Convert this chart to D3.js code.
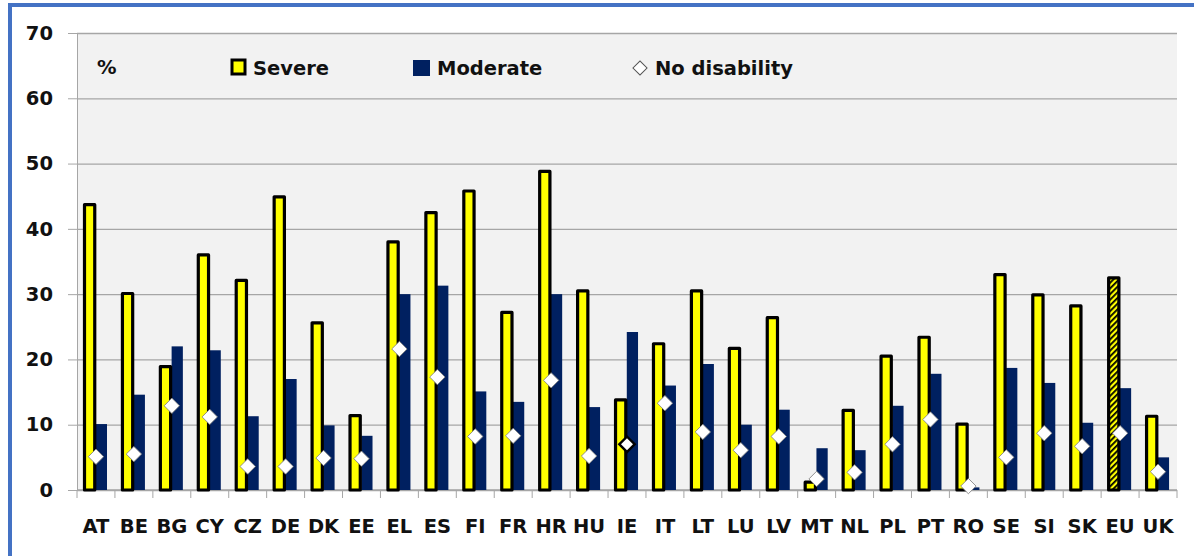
<!DOCTYPE html>
<html>
<head>
<meta charset="utf-8">
<script src="https://cdn.jsdelivr.net/npm/d3@7"></script>
<style>
  body { margin: 0; background: #fff; }
  svg text { font-family: "DejaVu Sans", Verdana, sans-serif; font-weight: bold; fill: #111; }
</style>
</head>
<body>
<div id="app"></div>
<script>
const countries = ["AT","BE","BG","CY","CZ","DE","DK","EE","EL","ES","FI","FR","HR","HU","IE","IT","LT","LU","LV","MT","NL","PL","PT","RO","SE","SI","SK","EU","UK"]
const severe   = [43.7,30.1,18.9,36.0,32.1,44.9,25.6,11.4,38.0,42.5,45.8,27.2,48.8,30.5,13.8,22.4,30.5,21.7,26.4,1.2,12.2,20.5,23.4,10.1,33.0,29.9,28.2,32.5,11.3]
const moderate = [10.1,14.6,22.0,21.4,11.3,17.0,9.9,8.3,30.0,31.3,15.1,13.5,30.0,12.7,24.2,16.0,19.3,10.0,12.3,6.4,6.1,12.9,17.8,0.4,18.7,16.4,10.3,15.6,5.0]
const noDis    = [5.1,5.5,12.9,11.2,3.6,3.6,4.9,4.8,21.6,17.3,8.2,8.3,16.8,5.2,7.0,13.3,8.9,6.1,8.2,1.7,2.7,7.0,10.8,0.6,5.0,8.7,6.7,8.7,2.8]
const yTicks = [0,10,20,30,40,50,60,70]

const width = 1194
const height = 556
const marginLeft = 77
const marginRight = 17
const marginTop = 33
const marginBottom = 66

const svg = d3.select('#app')
.append('svg')
.attr('width', width)
.attr('height', height)

// frame
svg.append('line').attr('x1', 10).attr('x2', 10).attr('y1', 3).attr('y2', height).attr('stroke', '#4472c4').attr('stroke-width', 4)
svg.append('line').attr('x1', 8).attr('x2', width).attr('y1', 5).attr('y2', 5).attr('stroke', '#4472c4').attr('stroke-width', 4)

// hatch for EU
const pat = svg.append('defs').append('pattern')
.attr('id', 'hatch')
.attr('patternUnits', 'userSpaceOnUse')
.attr('width', 4).attr('height', 4)
.attr('patternTransform', 'rotate(-45)')
pat.append('rect').attr('width', 4).attr('height', 4).attr('fill', '#ffff00')
pat.append('rect').attr('width', 4).attr('height', 1.8).attr('fill', '#000')

const scaleX = d3.scaleBand()
.domain(countries)
.range([marginLeft, width - marginRight])

const scaleY = d3.scaleLinear()
.domain([0, 70])
.range([height - marginBottom, marginTop])

const sub = d3.scaleBand()
.domain(["Severe","Moderate"])
.range([7.5, 30])

svg.append('rect')
.attr('x', marginLeft).attr('y', marginTop)
.attr('width', width - marginRight - marginLeft)
.attr('height', height - marginBottom - marginTop)
.attr('fill', '#f2f2f2')

// y axis with gridlines
svg.append('g')
.attr('transform', `translate(${marginLeft},0)`)
.call(d3.axisLeft(scaleY).tickValues(yTicks).tickSize(9).tickPadding(15))
.call(g => g.selectAll('text').style('font-size', '19.5px'))
.call(g => g.selectAll('line, path').attr('stroke', '#a6a6a6'))
.call(g => g.selectAll('.tick').append('line')
  .attr('x2', width - marginRight - marginLeft)
  .attr('stroke', '#a6a6a6').attr('stroke-width', 1.3))

// x axis
const xAxis = svg.append('g')
.attr('transform', `translate(0,${height - marginBottom})`)
xAxis.append('line')
.attr('x1', marginLeft).attr('x2', width - marginRight)
.attr('stroke', '#a6a6a6').attr('stroke-width', 1.3)
xAxis.selectAll('.tk')
.data(countries.concat(['end']))
.join('line')
.attr('x1', (d, i) => marginLeft + i * scaleX.step())
.attr('x2', (d, i) => marginLeft + i * scaleX.step())
.attr('y2', 8)
.attr('stroke', '#a6a6a6')
xAxis.selectAll('text')
.data(countries)
.join('text')
.attr('x', d => scaleX(d) + scaleX.bandwidth() / 2)
.attr('y', 43)
.attr('text-anchor', 'middle')
.style('font-size', '19.5px')
.text(d => d)

// moderate bars
svg.append('g')
.selectAll('rect')
.data(countries)
.join('rect')
.attr('x', d => scaleX(d) + sub('Moderate'))
.attr('width', sub.bandwidth())
.attr('y', (d, i) => scaleY(moderate[i]))
.attr('height', (d, i) => scaleY(0) - scaleY(moderate[i]))
.attr('fill', '#002060')

// severe bars
svg.append('g')
.selectAll('rect')
.data(countries)
.join('rect')
.attr('x', d => scaleX(d) + sub('Severe'))
.attr('width', sub.bandwidth() - 1)
.attr('y', (d, i) => scaleY(severe[i]))
.attr('height', (d, i) => scaleY(0) - scaleY(severe[i]))
.attr('fill', d => d === 'EU' ? 'url(#hatch)' : '#ffff00')
.attr('stroke', '#000')
.attr('stroke-width', 3.2)
.attr('stroke-linejoin', 'round')

// no disability markers
const diamond = d3.symbol().type(d3.symbolSquare).size(118)
svg.append('g')
.selectAll('path')
.data(countries)
.join('path')
.attr('d', diamond)
.attr('transform', (d, i) => `translate(${scaleX(d) + scaleX.bandwidth() / 2},${scaleY(noDis[i])}) rotate(45)`)
.attr('fill', '#fff')
.attr('stroke', d => d === 'IE' ? '#000' : '#7f7f7f')
.attr('stroke-width', d => d === 'IE' ? 2.4 : 0.8)

// legend
const legend = svg.append('g').style('font-size', '19.5px')
legend.append('text').attr('x', 97).attr('y', 74).text('%')
legend.append('rect').attr('x', 232).attr('y', 60).attr('width', 13).attr('height', 14)
.attr('fill', '#ffff00').attr('stroke', '#000').attr('stroke-width', 3)
legend.append('text').attr('x', 253).attr('y', 75).text('Severe')
legend.append('rect').attr('x', 413).attr('y', 60).attr('width', 17).attr('height', 16).attr('fill', '#002060')
legend.append('text').attr('x', 437).attr('y', 75).text('Moderate')
legend.append('path').attr('d', d3.symbol().type(d3.symbolSquare).size(100)).attr('transform', 'translate(640,68) rotate(45)')
.attr('fill', '#fff').attr('stroke', '#555').attr('stroke-width', 1)
legend.append('text').attr('x', 655).attr('y', 75).text('No disability')
</script>
</body>
</html>
